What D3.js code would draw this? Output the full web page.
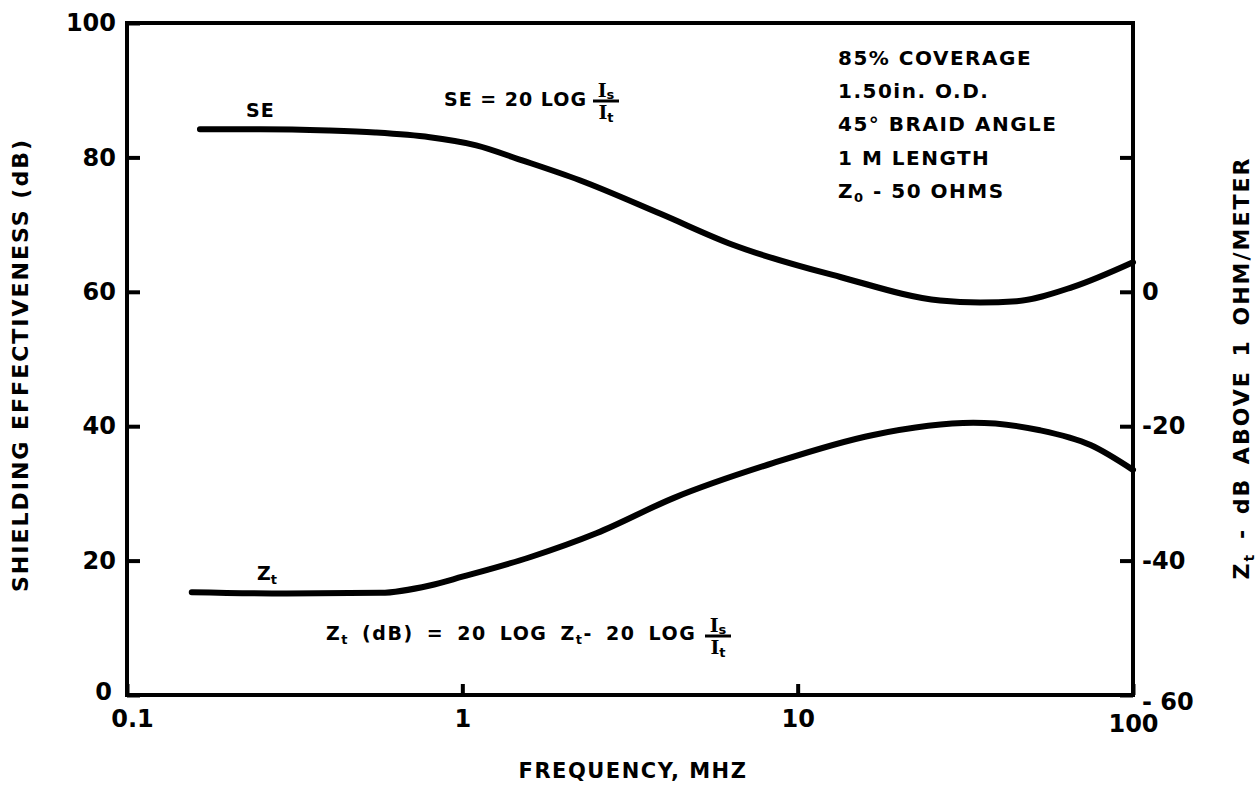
<!DOCTYPE html>
<html>
<head>
<meta charset="utf-8">
<script src="https://cdn.jsdelivr.net/npm/d3@7"></script>
<style>
  body { margin: 0; background: #fff; }
  svg text { font-family: "DejaVu Sans", sans-serif; font-weight: bold; fill: #000; }
</style>
</head>
<body>
<svg id="chart" width="1257" height="786"></svg>
<script>
// Shielding effectiveness curve (dB, left axis)
var seFreq   = [0.165, 0.25, 0.4, 0.55, 0.8, 1.1, 1.5, 2.24, 3.9, 6.4, 13.4, 26.6, 35, 45, 66, 100];
var seValues = [84.2, 84.2, 84.0, 83.7, 83.0, 81.8, 79.6, 76.6, 71.6, 67.0, 62.2, 58.7, 58.4, 58.6, 60.7, 64.4];

// Transfer impedance curve (dB above 1 ohm/meter, right axis)
var ztFreq   = [0.156, 0.3, 0.57, 0.8, 1.0, 1.59, 2.52, 4.26, 8.43, 16.8, 33.4, 52.8, 74.7, 100];
var ztValues = [-44.7, -44.9, -44.8, -43.7, -42.4, -39.5, -35.9, -30.7, -25.5, -21.3, -19.5, -20.6, -22.8, -26.5];

var xTicks = [0.1, 1, 10, 100];
var xTickLabels = ["0.1", "1", "10", "100"];
var leftTicks = [0, 20, 40, 60, 80, 100];
var rightTicks = [-60, -40, -20, 0, 20];
var rightTickLabels = ["- 60", "-40", "-20", "0", ""];

var notes = ["85% COVERAGE", "1.50in. O.D.", "45\u00b0 BRAID ANGLE", "1 M LENGTH"];

var WIDTH = 1257, HEIGHT = 786;
var MARGINS = {top: 23, right: 124, bottom: 91, left: 127};

var svg = d3.select('#chart');

var xRange = d3.scaleLog()
    .domain([0.1, 100])
    .range([MARGINS.left, WIDTH - MARGINS.right]);
var yLeft = d3.scaleLinear()
    .domain([0, 100])
    .range([HEIGHT - MARGINS.bottom, MARGINS.top]);
var yRight = d3.scaleLinear()
    .domain([-60, 40])
    .range([HEIGHT - MARGINS.bottom, MARGINS.top]);

// Axes, ticks pointing into the plot
var xAxis = d3.axisBottom(xRange)
    .tickValues(xTicks)
    .tickFormat(function(d, i) { return xTickLabels[i]; })
    .tickSizeInner(-11).tickSizeOuter(0).tickPadding(14);
var leftAxis = d3.axisLeft(yLeft)
    .tickValues(leftTicks)
    .tickSizeInner(-13).tickSizeOuter(0).tickPadding(11);
var rightAxis = d3.axisRight(yRight)
    .tickValues(rightTicks)
    .tickFormat(function(d, i) { return rightTickLabels[i]; })
    .tickSizeInner(-13).tickSizeOuter(0).tickPadding(9);

function styleAxis(g, size) {
    g.select('.domain').remove();
    g.selectAll('line').attr('stroke', '#000').attr('stroke-width', 4);
    g.selectAll('text')
        .style('font-family', '"DejaVu Sans", sans-serif')
        .style('font-weight', 'bold')
        .style('font-size', size + 'px');
}

var gx = svg.append('g')
    .attr('transform', 'translate(0,' + (HEIGHT - MARGINS.bottom) + ')')
    .call(xAxis)
    .call(styleAxis, 24);
// nudge 0.1 and 100 like the original drawing
gx.selectAll('.tick text').attr('dx', function(d) { return d === 0.1 ? 5 : 0; })
    .attr('dy', function(d) { return d === 100 ? '0.95em' : '0.75em'; });
var gl = svg.append('g')
    .attr('transform', 'translate(' + MARGINS.left + ',0)')
    .call(leftAxis)
    .call(styleAxis, 24);
gl.selectAll('.tick text').attr('dx', function(d) { return d === 0 ? -4 : 0; })
    .attr('dy', function(d) { return d === 0 ? '0.2em' : '0.32em'; });
var gr = svg.append('g')
    .attr('transform', 'translate(' + (WIDTH - MARGINS.right) + ',0)')
    .call(rightAxis)
    .call(styleAxis, 24);
gr.selectAll('.tick text').attr('dy', function(d) { return d === -60 ? '0.6em' : '0.32em'; });

// Frame
svg.append('rect')
    .attr('x', xRange(0.1))
    .attr('y', yLeft(100))
    .attr('width', xRange(100) - xRange(0.1))
    .attr('height', yLeft(0) - yLeft(100))
    .attr('fill', 'none')
    .attr('stroke', '#000')
    .attr('stroke-width', 4);

// Curves
var seLine = d3.line()
    .x(function(d) { return xRange(d[0]); })
    .y(function(d) { return yLeft(d[1]); })
    .curve(d3.curveMonotoneX);
var ztLine = d3.line()
    .x(function(d) { return xRange(d[0]); })
    .y(function(d) { return yRight(d[1]); })
    .curve(d3.curveMonotoneX);

svg.append('path')
    .attr('d', seLine(d3.zip(seFreq, seValues)))
    .attr('fill', 'none')
    .attr('stroke', '#000')
    .attr('stroke-width', 6)
    .attr('stroke-linecap', 'round');
svg.append('path')
    .attr('d', ztLine(d3.zip(ztFreq, ztValues)))
    .attr('fill', 'none')
    .attr('stroke', '#000')
    .attr('stroke-width', 6)
    .attr('stroke-linecap', 'round');

// Axis titles
svg.append('text')
    .attr('x', 633)
    .attr('y', 778)
    .attr('text-anchor', 'middle')
    .style('font-size', '21px')
    .style('letter-spacing', '1.5px')
    .text('FREQUENCY, MHZ');
svg.append('text')
    .attr('transform', 'translate(28,365) rotate(-90)')
    .attr('text-anchor', 'middle')
    .style('font-size', '22px')
    .style('letter-spacing', '2px')
    .text('SHIELDING EFFECTIVENESS (dB)');
var rt = svg.append('text')
    .attr('transform', 'translate(1249,368) rotate(-90)')
    .attr('text-anchor', 'middle')
    .style('font-size', '22px')
    .style('letter-spacing', '2px')
    .style('word-spacing', '4px');
rt.append('tspan').text('Z');
rt.append('tspan').attr('dy', 5).style('font-size', '14px').text('t');
rt.append('tspan').attr('dy', -5).text(' - dB ABOVE 1 OHM/METER');

// Curve labels
svg.append('text').attr('x', 246).attr('y', 117).style('font-size', '19px').style('letter-spacing', '1px').text('SE');
var zl = svg.append('text').attr('x', 257).attr('y', 580).style('font-size', '19px');
zl.append('tspan').text('Z');
zl.append('tspan').attr('dy', 4).style('font-size', '13px').text('t');

// Fraction Is / It
function fraction(x, yLine) {
    var g = svg.append('g');
    var num = g.append('text').attr('x', x).attr('y', yLine - 4)
        .attr('text-anchor', 'middle')
        .style('font-family', '"DejaVu Serif", serif').style('font-size', '19px');
    num.append('tspan').text('I');
    num.append('tspan').attr('dy', 2).style('font-size', '13px').style('font-family', '"DejaVu Sans", sans-serif').text('s');
    g.append('line')
        .attr('x1', x - 13).attr('x2', x + 13)
        .attr('y1', yLine).attr('y2', yLine)
        .attr('stroke', '#000').attr('stroke-width', 3);
    var den = g.append('text').attr('x', x).attr('y', yLine + 18)
        .attr('text-anchor', 'middle')
        .style('font-family', '"DejaVu Serif", serif').style('font-size', '19px');
    den.append('tspan').text('I');
    den.append('tspan').attr('dy', 3).style('font-size', '13px').style('font-family', '"DejaVu Sans", sans-serif').text('t');
}

svg.append('text').attr('x', 444).attr('y', 106)
    .style('font-size', '19px').style('letter-spacing', '1px')
    .text('SE = 20 LOG');
fraction(606, 101);

var zf = svg.append('text').attr('x', 326).attr('y', 640)
    .style('font-size', '19px').style('letter-spacing', '1.5px').style('word-spacing', '5px');
zf.append('tspan').text('Z');
zf.append('tspan').attr('dy', 4).style('font-size', '13px').text('t');
zf.append('tspan').attr('dy', -4).text(' (dB) = 20 LOG Z');
zf.append('tspan').attr('dy', 4).style('font-size', '13px').text('t');
zf.append('tspan').attr('dy', -4).text('- 20 LOG');
fraction(718, 636);

// Cable notes
var noteY = [57, 90, 123, 157];
notes.forEach(function(t, i) {
    svg.append('text')
        .attr('x', 838).attr('y', noteY[i] + 8)
        .style('font-size', '20px')
        .style('letter-spacing', '1.5px')
        .text(t);
});
var zo = svg.append('text').attr('x', 838).attr('y', 198)
    .style('font-size', '20px').style('letter-spacing', '1.5px');
zo.append('tspan').text('Z');
zo.append('tspan').attr('dy', 4).style('font-size', '13px').text('0');
zo.append('tspan').attr('dy', -4).text(' - 50 OHMS');
</script>
</body>
</html>
